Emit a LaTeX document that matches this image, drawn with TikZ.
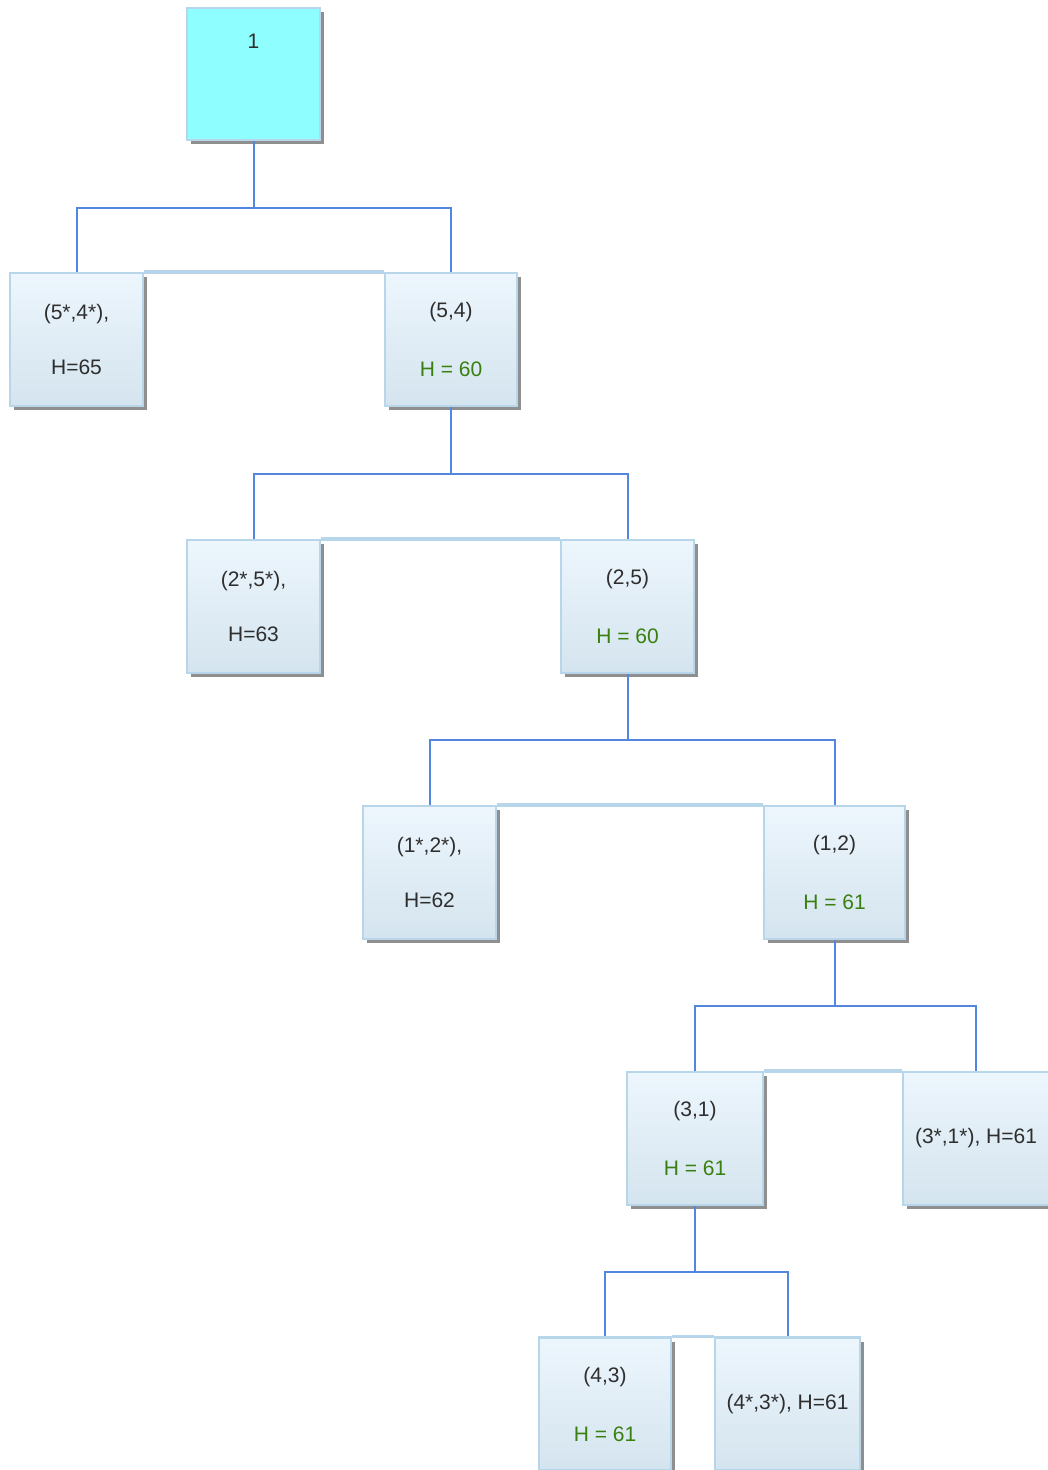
\documentclass[tikz,border=0pt]{standalone}
\usepackage{fontspec}
\setmainfont{Liberation Sans}
\usetikzlibrary{shadows}

\definecolor{boxtop}{HTML}{EDF6FD}
\definecolor{boxbot}{HTML}{D4E4EE}
\definecolor{boxline}{HTML}{B8D6EA}
\definecolor{rootfill}{HTML}{8EFEFE}
\definecolor{linkblue}{HTML}{5286E0}
\definecolor{hgreen}{HTML}{3A8010}
\definecolor{txt}{HTML}{2E2E2E}

\begin{document}
\begin{tikzpicture}[x=1pt, y=-1pt,
    state/.style={draw=boxline, line width=2.5pt, top color=boxtop, bottom color=boxbot,
        minimum width=133pt, minimum height=133pt, align=center, text=txt,
        font=\fontsize{21}{25}\selectfont,
        drop shadow={shadow xshift=4pt, shadow yshift=-4pt, fill=black!55, opacity=0.8}},
    link/.style={draw=linkblue, line width=2pt},
    joint/.style={draw=boxline, line width=3.5pt}]
    % Fix the page to the reference size
    \useasboundingbox (0,0) rectangle (1047,1470);

    % Draw the root
    \node[state, fill=rootfill, top color=rootfill, bottom color=rootfill,
        text height=14pt, text depth=65pt, minimum height=132pt] (root) at (253.5,74) {1};

    % Level 1
    \node[state] (a) at (76.5,339.5) {(5*,4*),\\[30pt]H=65};
    \node[state, minimum width=132pt] (b) at (451,339.5) {(5,4)\\[34pt]\textcolor{hgreen}{H = 60}};

    % Level 2
    \node[state] (c) at (253.5,606.5) {(2*,5*),\\[30pt]H=63};
    \node[state] (d) at (627.5,606.5) {(2,5)\\[34pt]\textcolor{hgreen}{H = 60}};

    % Level 3
    \node[state] (e) at (429.5,872.5) {(1*,2*),\\[30pt]H=62};
    \node[state, minimum width=141pt] (f) at (834.5,872.5) {(1,2)\\[34pt]\textcolor{hgreen}{H = 61}};

    % Level 4
    \node[state, minimum width=136pt] (g) at (695,1138.5) {(3,1)\\[34pt]\textcolor{hgreen}{H = 61}};
    \node[state, minimum width=146pt] (h) at (976,1138.5) {(3*,1*), H=61};

    % Level 5
    \node[state, minimum width=132pt] (i) at (605,1404) {(4,3)\\[34pt]\textcolor{hgreen}{H = 61}};
    \node[state, minimum width=145pt] (j) at (787.5,1404) {(4*,3*), H=61};

    % Join the tops of the siblings
    \draw[joint] (a.north east) -- (b.north west);
    \draw[joint] (c.north east) -- (d.north west);
    \draw[joint] (e.north east) -- (f.north west);
    \draw[joint] (g.north east) -- (h.north west);
    \draw[joint] (i.north east) -- (j.north west);

    % Draw the branches
    \draw[link] (root.south) -- ++(0,67) coordinate (r0);
    \draw[link] (a.north) |- (r0) -| (b.north);
    \draw[link] (b.south) -- ++(0,67) coordinate (r1);
    \draw[link] (c.north) |- (r1) -| (d.north);
    \draw[link] (d.south) -- ++(0,66) coordinate (r2);
    \draw[link] (e.north) |- (r2) -| (f.north);
    \draw[link] (f.south) -- ++(0,66) coordinate (r3);
    \draw[link] (g.north) |- (r3) -| (h.north);
    \draw[link] (g.south) -- ++(0,66) coordinate (r4);
    \draw[link] (i.north) |- (r4) -| (j.north);

\end{tikzpicture}
\end{document}
